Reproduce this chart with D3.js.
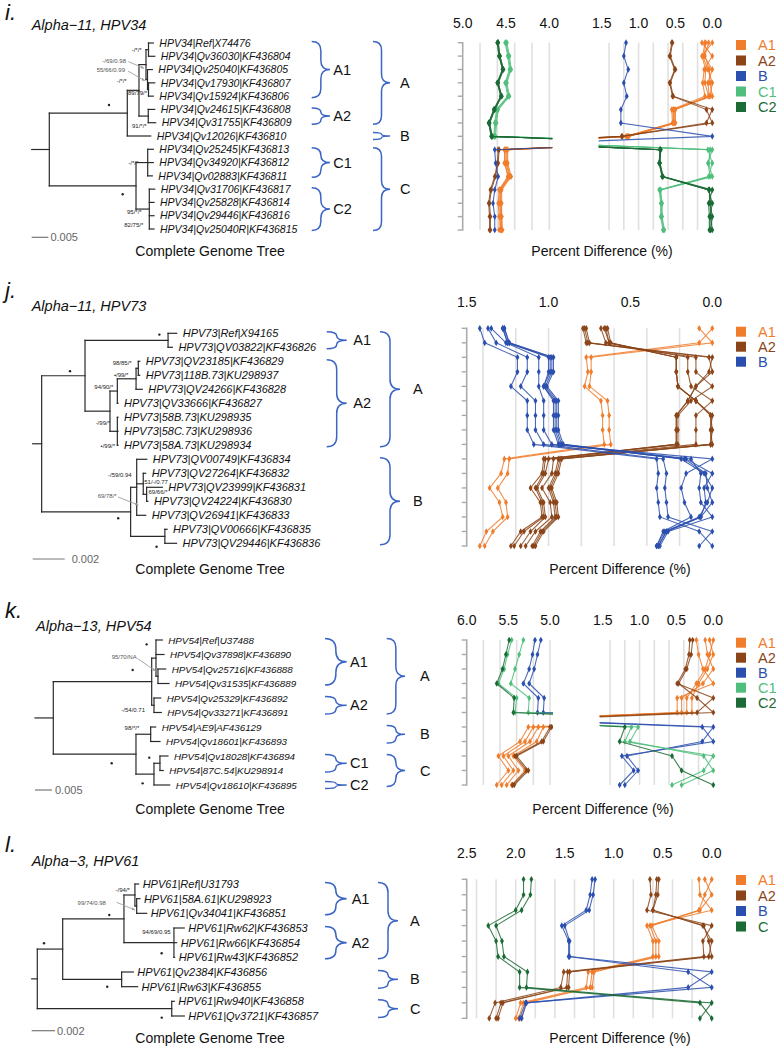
<!DOCTYPE html>
<html><head><meta charset="utf-8">
<script src="https://cdn.jsdelivr.net/npm/d3@7/dist/d3.min.js"></script>
<style>html,body{margin:0;padding:0;background:#fff}svg{display:block;font-family:"Liberation Sans",Arial,Helvetica,sans-serif}</style>
</head><body><svg id="fig" width="780" height="1049"></svg>
<script>
// ================= DATA =================
// ---- panel i : Alpha-11, HPV34 ----
const iLeaves=["HPV34|Ref|X74476","HPV34|Qv36030|KF436804","HPV34|Qv25040|KF436805","HPV34|Qv17930|KF436807","HPV34|Qv15924|KF436806","HPV34|Qv24615|KF436808","HPV34|Qv31755|KF436809","HPV34|Qv12026|KF436810","HPV34|Qv25245|KF436813","HPV34|Qv34920|KF436812","HPV34|Qv02883|KF436811","HPV34|Qv31706|KF436817","HPV34|Qv25828|KF436814","HPV34|Qv29446|KF436816","HPV34|Qv25040R|KF436815"];
const iTree={b:0.00527,c:[
 {id:"AB",b:0.02335,c:[
  {id:"A",b:0.0035,c:[
   {id:"A1",b:0.0021,c:[
    {id:"A1a",b:0.00075,c:[{n:0,b:0.00144},{n:1,b:0.00186}]},
    {id:"A1b",b:0.00045,c:[{n:2,b:0.00144},{id:"A1c",b:0.0003,c:[{n:3,b:0.00186},{n:4,b:0.00144}]}]}]},
   {id:"A2",b:0.00278,c:[{n:5,b:0.00192},{n:6,b:0.00222}]}]},
  {n:7,b:0.0070}]},
 {id:"C",b:0.02596,c:[
  {id:"C1",b:0.0035,c:[{n:8,b:0.00168},{n:9,b:0.00168},{n:10,b:0.00138}]},
  {id:"C2",b:0.00398,c:[{n:11,b:0.00162},{n:12,b:0.00141},{n:13,b:0.00141},{n:14,b:0.00141}]}]}]};
const iSupport=[["-/*/*","A1",-4.3,-12.1],["-/*/*","A",-12.3,-7.8],["89/79/*","A1c",-1.5,5.5],["•","AB",-18.3,-8.2],["91/*/*","A2",-1.6,12],["-/*/*","C1",-9.4,2.4],["•","C",-13.3,8.5],["95/*/*","C2",-7.6,5],["82/75/*","C2",-6,17.5]];
const iArrows=[["-/69/0.98","A1b",-21.5,-16.6,-19.2,-17.9,-3.5,-11.3],["55/66/0.99","A1c",-23.5,-17.5,-20.5,-18.5,-3.8,-8.8]];
const iSubClades=[["A1",0,4],["A2",5,6],["C1",8,10],["C2",11,14]];
const iMainClades=[["A",0,6],["B",7,7],["C",8,14]];
const iTicks=[[5.0,4.5,4.0],[1.5,1.0,0.5,0.0]];
const iA1=[[0.00,0.14,0.09,0.10,0.05,0.53,0.52,1.15,4.50,4.50,4.46,4.57,4.57,4.56,4.56],
[0.14,0.00,0.11,0.13,0.10,0.55,0.54,1.17,4.52,4.51,4.48,4.58,4.59,4.58,4.58],
[0.09,0.11,0.00,0.06,0.04,0.50,0.50,1.13,4.48,4.48,4.44,4.55,4.55,4.55,4.54],
[0.10,0.13,0.06,0.00,0.03,0.51,0.51,1.14,4.49,4.49,4.45,4.56,4.56,4.55,4.55],
[0.05,0.10,0.04,0.03,0.00,0.53,0.53,1.16,4.51,4.52,4.47,4.57,4.57,4.57,4.56]];
const iA2=[[0.54,0.57,0.50,0.57,0.53,0.00,0.08,1.22,4.58,4.59,4.62,4.67,4.69,4.68,4.68],
[0.55,0.58,0.51,0.58,0.54,0.08,0.00,1.23,4.59,4.60,4.63,4.68,4.70,4.69,4.69]];
const iB=[[1.17,1.20,1.14,1.20,1.16,1.24,1.24,0.00,4.63,4.62,4.59,4.63,4.65,4.63,4.63]];
const iC1=[[4.50,4.47,4.45,4.50,4.47,4.60,4.62,4.63,0.00,0.06,0.03,0.71,0.69,0.69,0.66],
[4.51,4.48,4.46,4.51,4.48,4.61,4.63,4.64,0.06,0.00,0.05,0.72,0.70,0.70,0.67],
[4.49,4.46,4.44,4.49,4.46,4.59,4.61,4.62,0.03,0.05,0.00,0.70,0.68,0.68,0.65]];
const iC2=[[4.59,4.57,4.53,4.59,4.55,4.63,4.69,4.66,0.70,0.71,0.67,0.00,0.05,0.04,0.04],
[4.60,4.58,4.54,4.60,4.56,4.64,4.70,4.67,0.71,0.72,0.68,0.05,0.00,0.03,0.03],
[4.59,4.57,4.53,4.59,4.55,4.63,4.69,4.66,0.70,0.71,0.67,0.04,0.03,0.00,0.02],
[4.60,4.58,4.54,4.60,4.56,4.64,4.70,4.67,0.71,0.72,0.68,0.04,0.03,0.02,0.00]];

// ---- panel j : Alpha-11, HPV73 ----
const jLeaves=["HPV73|Ref|X94165","HPV73|QV03822|KF436826","HPV73|QV23185|KF436829","HPV73|118B.73|KU298937","HPV73|QV24266|KF436828","HPV73|QV33666|KF436827","HPV73|58B.73|KU298935","HPV73|58C.73|KU298936","HPV73|58A.73|KU298934","HPV73|QV00749|KF436834","HPV73|QV27264|KF436832","HPV73|QV23999|KF436831","HPV73|QV24224|KF436830","HPV73|QV26941|KF436833","HPV73|QV00666|KF436835","HPV73|QV29446|KF436836"];
const jTree={b:0.00056,c:[
 {id:"A",b:0.00271,c:[
  {id:"A1",b:0.00519,c:[{n:0,b:0.00054},{n:1,b:0.00027}]},
  {id:"A2",b:0.00156,c:[
   {id:"A2a",b:0.00046,c:[
    {id:"A2a1",b:0.00117,c:[{id:"pair",b:0.00014,c:[{n:2,b:0.00009},{n:3,b:0.00009}]},{n:4,b:0.00039}]},
    {n:5,b:0.00004}]},
   {id:"A2b",b:0.00046,c:[{n:6,b:0.00004},{n:7,b:0.00004},{n:8,b:0.00004}]}]}]},
 {id:"B",b:0.00556,c:[
  {id:"B1",b:0.00038,c:[{n:9,b:0.00063},
   {id:"Bsub",b:0.00041,c:[{n:10,b:0.00015},{id:"Bsubsub",b:0.00021,c:[{n:11,b:0.00098},{n:12,b:0.00008}]}]},
   {n:13,b:0.00056}]},
  {id:"B2",b:0.00214,c:[{n:14,b:0.00014},{n:15,b:0.00073}]}]}]};
const jSupport=[["•","A1",-8.7,-5.7],["•","A",-15,-4.6],["98/85/*","pair",-6.6,-3.8],["•/99/*","A2a1",-7.7,-2.3],["94/90/*","A2a",-4,-2],["-/99/*","A2",0,14.3],["•/99/*","A2b",-2.3,16.7],["-/59/0.94","B1",-5,-10.3],["51/-/0.77","Bsub",1.0,0.2,"start"],["69/66/*","Bsubsub",1.9,-0.3,"start"],["•","B",-12.4,6.5],["•","B2",-8.3,10.4]];
const jArrows=[["69/78/*","B1",-20,10.7,-18.7,9.7,1.6,17.7]];
const jSubClades=[["A1",0,1],["A2",2,8]];
const jMainClades=[["A",0,8],["B",9,15]];
const jTicks=[[1.5,1.0,0.5,0.0]];
const jA1=[[0.00,0.08,0.77,0.76,0.78,0.68,0.67,0.67,0.66,1.27,1.29,1.36,1.30,1.28,1.38,1.42],
[0.08,0.00,0.74,0.74,0.75,0.64,0.63,0.63,0.62,1.24,1.25,1.31,1.26,1.25,1.34,1.39]];
const jA2=[[0.78,0.76,0.00,0.02,0.10,0.15,0.22,0.22,0.22,1.02,1.03,1.08,1.04,1.03,1.15,1.21],
[0.79,0.77,0.02,0.00,0.10,0.15,0.22,0.22,0.22,1.03,1.04,1.11,1.05,1.04,1.17,1.23],
[0.77,0.75,0.10,0.10,0.00,0.13,0.21,0.21,0.21,1.00,1.02,1.07,1.03,1.02,1.11,1.17],
[0.68,0.65,0.15,0.15,0.13,0.00,0.10,0.10,0.10,0.97,0.98,1.04,0.99,0.98,1.08,1.14],
[0.66,0.63,0.22,0.22,0.21,0.10,0.00,0.01,0.01,0.94,0.96,1.00,0.97,0.96,1.05,1.10],
[0.65,0.63,0.22,0.22,0.21,0.10,0.01,0.00,0.01,0.93,0.95,0.99,0.96,0.95,1.04,1.09],
[0.64,0.62,0.22,0.22,0.21,0.10,0.01,0.01,0.00,0.92,0.94,0.98,0.95,0.94,1.03,1.08]];
const jB=[[1.35,1.26,1.06,1.06,1.06,1.03,1.03,1.03,0.98,0.00,0.16,0.19,0.17,0.13,0.30,0.34],
[1.28,1.25,1.00,1.00,1.03,0.97,0.97,0.97,0.94,0.16,0.00,0.05,0.04,0.07,0.28,0.33],
[1.27,1.24,0.98,0.98,1.02,0.95,0.95,0.95,0.92,0.19,0.05,0.00,0.03,0.08,0.29,0.34],
[1.28,1.25,0.99,0.99,1.03,0.96,0.96,0.96,0.93,0.17,0.04,0.03,0.00,0.07,0.28,0.33],
[1.27,1.24,0.97,0.97,1.01,0.94,0.94,0.94,0.91,0.13,0.07,0.08,0.07,0.00,0.27,0.32],
[1.37,1.32,1.13,1.13,1.17,1.08,1.08,1.08,1.03,0.30,0.28,0.29,0.28,0.27,0.00,0.08],
[1.42,1.39,1.19,1.19,1.23,1.13,1.13,1.13,1.09,0.34,0.33,0.34,0.33,0.32,0.08,0.00]];

// ---- panel k : Alpha-13, HPV54 ----
const kLeaves=["HPV54|Ref|U37488","HPV54|Qv37898|KF436890","HPV54|Qv25716|KF436888","HPV54|Qv31535|KF436889","HPV54|Qv25329|KF436892","HPV54|Qv33271|KF436891","HPV54|AE9|AF436129","HPV54|Qv18601|KF436893","HPV54|Qv18028|KF436894","HPV54|87C.54|KU298914","HPV54|Qv18610|KF436895"];
const kTree={b:0.00538,c:[
 {id:"A",b:0.02894,c:[
  {id:"A1",b:0.00126,c:[{n:0,b:0.00185},{n:1,b:0.00235},{id:"A1s",b:0.00059,c:[{n:2,b:0.00226},{n:3,b:0.00324}]}]},
  {id:"A2",b:0.00068,c:[{n:4,b:0.00197},{n:5,b:0.00215}]}]},
 {id:"BC",b:0.02432,c:[
  {id:"B",b:0.00432,c:[{n:6,b:0.00147},{n:7,b:0.00274}]},
  {id:"C",b:0.00529,c:[{id:"C1",b:0.00176,c:[{n:8,b:0.00235},{n:9,b:0.00097}]},{n:10,b:0.00462}]}]}]};
const kSupport=[["•","A1",-9.3,-13.8],["•","A",-19,-11.7],["-/54/0.71","A2",-9,6.7],["98/*/*","B",-11.4,-3.8],["•","C1",-10.7,-5.6],["•","BC",-24.3,9.1],["•","C",-11.3,9.2]];
const kArrows=[["95/70/NA","A1s",-21.3,-17.3,-20.5,-17.8,-2.5,-5.3]];
const kSubClades=[["A1",0,3],["A2",4,5],["C1",8,9],["C2",10,10]];
const kMainClades=[["A",0,5],["B",6,7],["C",8,10]];
const kTicks=[[6.0,5.5,5.0],[1.5,1.0,0.5,0.0]];
const kA1=[[0.00,0.05,0.11,0.23,0.36,0.36,5.14,5.24,5.50,5.38,5.52],
[0.05,0.00,0.08,0.20,0.29,0.29,5.08,5.16,5.44,5.30,5.46],
[0.11,0.08,0.00,0.14,0.43,0.43,5.20,5.30,5.56,5.44,5.58],
[0.23,0.20,0.14,0.00,0.49,0.49,5.26,5.36,5.62,5.50,5.64]];
const kA2=[[0.32,0.33,0.38,0.49,0.00,0.22,4.98,5.08,5.40,5.26,5.43],
[0.28,0.30,0.36,0.47,0.22,0.00,5.00,5.10,5.42,5.28,5.45]];
const kB=[[5.18,5.21,5.25,5.32,5.14,5.15,0.00,0.15,1.17,1.02,1.20],
[5.11,5.15,5.19,5.25,5.07,5.08,0.15,0.00,1.24,1.08,1.27]];
const kC1=[[5.46,5.51,5.55,5.62,5.40,5.42,1.11,1.20,0.00,0.13,0.56],
[5.32,5.37,5.42,5.47,5.25,5.26,1.02,1.13,0.13,0.00,0.43]];
const kC2=[[5.49,5.53,5.57,5.64,5.43,5.44,1.20,1.27,0.56,0.43,0.00]];

// ---- panel l : Alpha-3, HPV61 ----
const lLeaves=["HPV61|Ref|U31793","HPV61|58A.61|KU298923","HPV61|Qv34041|KF436851","HPV61|Rw62|KF436853","HPV61|Rw66|KF436854","HPV61|Rw43|KF436852","HPV61|Qv2384|KF436856","HPV61|Rw63|KF436855","HPV61|Rw940|KF436858","HPV61|Qv3721|KF436857"];
const lTree={b:0.00048,c:[
 {id:"AB",b:0.00218,c:[
  {id:"A",b:0.00526,c:[
   {id:"A1",b:0.00094,c:[{n:0,b:0.00032},{id:"A1s",b:0.00015,c:[{n:1,b:0.00028},{n:2,b:0.00086}]}]},
   {id:"A2",b:0.00429,c:[{n:3,b:0.00088},{n:4,b:0.00023},{n:5,b:0.00006}]}]},
  {id:"B",b:0.00506,c:[{n:6,b:0.001},{n:7,b:0.00137}]}]},
 {id:"C",b:0.01154,c:[{n:8,b:0.00022},{n:9,b:0.00108}]}]};
const lSupport=[["-/94/*","A1",-5,-3],["•","A",-14.7,-3.8],["94/69/0.95","A2",-3.3,-8.2],["•","A2",-12.3,10.6],["•","AB",-18.7,-5.8],["•","B",-14.4,7.4],["•","C",-10,9]];
const lArrows=[["99/74/0.98","A1s",-30.7,-1.5,-20,-3.7,-1.7,4]];
const lSubClades=[["A1",0,2],["A2",3,5]];
const lMainClades=[["A",0,5],["B",6,7],["C",8,9]];
const lTicks=[[2.5,2.0,1.5,1.0,0.5,0.0]];
const lA1=[[0.00,0.07,0.13,0.63,0.57,0.57,1.22,1.24,1.92,1.97],
[0.07,0.00,0.12,0.61,0.54,0.54,1.20,1.22,1.89,1.94],
[0.13,0.12,0.00,0.66,0.60,0.60,1.26,1.28,1.95,2.00]];
const lA2=[[0.63,0.62,0.66,0.00,0.09,0.08,1.51,1.54,2.21,2.27],
[0.56,0.57,0.60,0.09,0.00,0.03,1.47,1.48,2.15,2.20],
[0.54,0.55,0.60,0.08,0.03,0.00,1.45,1.46,2.13,2.18]];
const lB=[[1.19,1.21,1.25,1.50,1.45,1.45,0.00,0.24,1.89,1.94],
[1.22,1.24,1.28,1.53,1.46,1.46,0.24,0.00,1.90,1.96]];
const lC=[[1.84,1.85,1.94,2.20,2.14,2.12,1.88,1.89,0.00,0.12],
[1.92,1.92,2.00,2.28,2.20,2.18,1.96,1.96,0.12,0.00]];

// ================= STYLE / LAYOUT =================
const COLORS={A1:"#f07d2c",A2:"#8b4519",B:"#2b4fae",C1:"#50be7c",C2:"#1c6a35",C:"#1c6a35"};
const panels=[
 {letter:"i.",sub:"Alpha−11, HPV34",leaves:iLeaves,tree:iTree,support:iSupport,arrows:iArrows,subC:iSubClades,mainC:iMainClades,ticks:iTicks,scaleTxt:"0.005",
  groups:[["A1",iA1],["A2",iA2],["B",iB],["C1",iC1],["C2",iC2]],
  L:{letterY:20,subX:31.7,subY:30,x0:31.7,sv:0.005,sp:16.7,tTop:43,tBot:229,lf:10.5,gap:6,scY:237.3,scGap:2,capY:256,ttlX:602,
     sbx:311.7,sbw:18.3,slx:333.3,mbx:373,mbw:17,mlx:400,cTop:42.7,cBot:230,segs:[[462.7,549.3],[601.7,712.3]],tickY:28.3,legY:45,legSp:15.5}},
 {letter:"j.",sub:"Alpha−11, HPV73",leaves:jLeaves,tree:jTree,support:jSupport,arrows:jArrows,subC:jSubClades,mainC:jMainClades,ticks:jTicks,scaleTxt:"0.002",
  groups:[["A1",jA1],["A2",jA2],["B",jB]],
  L:{letterY:298,subX:31.7,subY:311,x0:32.7,sv:0.002,sp:32,tTop:333.3,tBot:543.3,lf:11,gap:6,scY:559,scGap:7,capY:574,ttlX:620,
     sbx:326.7,sbw:20,slx:353.3,mbx:380,mbw:20,mlx:413,cTop:328.3,cBot:546,segs:[[466.7,712.3]],tickY:306.5,legY:331.7,legSp:15}},
 {letter:"k.",sub:"Alpha−13, HPV54",leaves:kLeaves,tree:kTree,support:kSupport,arrows:kArrows,subC:kSubClades,mainC:kMainClades,ticks:kTicks,scaleTxt:"0.005",
  groups:[["A1",kA1],["A2",kA2],["B",kB],["C1",kC1],["C2",kC2]],
  L:{letterY:618,subX:36,subY:631,x0:35,sv:0.005,sp:17,tTop:640,tBot:785,lf:9.8,gap:6,scY:790,scGap:3,capY:814,ttlX:603,
     sbx:325,sbw:21.7,slx:350,mbx:386.7,mbw:18.3,mlx:420,cTop:640,cBot:785,segs:[[466.7,550],[602.7,713.3]],tickY:625,legY:642.7,legSp:15}},
 {letter:"l.",sub:"Alpha−3, HPV61",leaves:lLeaves,tree:lTree,support:lSupport,arrows:lArrows,subC:lSubClades,mainC:lMainClades,ticks:lTicks,scaleTxt:"0.002",
  groups:[["A1",lA1],["A2",lA2],["B",lB],["C",lC]],
  L:{letterY:852,subX:31.7,subY:866,x0:31.7,sv:0.002,sp:23.3,tTop:884,tBot:1016,lf:11,gap:4,scY:1030.7,scGap:2,capY:1043,ttlX:620,
     sbx:325,sbw:21.7,slx:351.7,mbx:378,mbw:20,mlx:410,cTop:879.3,cBot:1018.3,segs:[[466.7,711.7]],tickY:858,legY:880,legSp:15.5}}
];

// ================= DRAW =================
const svg=d3.select("#fig");
const defs=svg.append("defs");
defs.append("marker").attr("id","arr").attr("viewBox","0 0 10 10").attr("refX",9).attr("refY",5)
 .attr("markerWidth",4).attr("markerHeight",4).attr("orient","auto")
 .append("path").attr("d","M0,1 L10,5 L0,9 z").attr("fill","#9a9a9a");

function bracePath(x,y1,y2,w){
 const ym=(y1+y2)/2, xm=x+w/2, r=Math.min(w/2,(y2-y1)/4);
 return `M${x},${y1} Q${xm},${y1} ${xm},${y1+r} L${xm},${ym-r} Q${xm},${ym} ${x+w},${ym} Q${xm},${ym} ${xm},${ym+r} L${xm},${y2-r} Q${xm},${y2} ${x},${y2}`;
}

function drawTree(P){
 const L=P.L, g=svg.append("g");
 g.append("text").attr("x",5).attr("y",L.letterY).attr("font-size",22).attr("font-style","italic").attr("fill","#111").text(P.letter);
 g.append("text").attr("x",L.subX).attr("y",L.subY).attr("font-size",14.5).attr("font-style","italic").attr("fill","#111").text(P.sub);
 const root=d3.hierarchy(P.tree,d=>d.c);
 const xs=d3.scaleLinear().domain([0,L.sv]).range([L.x0,L.x0+L.sp]);
 const ys=d3.scaleLinear().domain([0,P.leaves.length-1]).range([L.tTop,L.tBot]);
 root.eachBefore(n=>{n.len=(n.parent?n.parent.len:0)+n.data.b;n.px=xs(n.len);});
 root.eachAfter(n=>{n.py=n.children?(n.children[0].py+n.children[n.children.length-1].py)/2:ys(n.data.n);});
 const tg=g.append("g").attr("stroke","#2a2a2a").attr("stroke-width",1.2).attr("stroke-linecap","square").attr("fill","none");
 tg.append("line").attr("x1",xs(0)).attr("x2",root.px).attr("y1",root.py).attr("y2",root.py);
 root.descendants().forEach(n=>{
  if(n.parent) tg.append("line").attr("x1",n.parent.px).attr("x2",n.px).attr("y1",n.py).attr("y2",n.py);
  if(n.children) tg.append("line").attr("x1",n.px).attr("x2",n.px).attr("y1",n.children[0].py).attr("y2",n.children[n.children.length-1].py);
 });
 root.leaves().forEach(n=>g.append("text").attr("x",n.px+L.gap).attr("y",n.py+L.lf*0.36)
  .attr("font-size",L.lf).attr("font-style","italic").attr("fill","#111").text(P.leaves[n.data.n]));
 const byId={}; root.descendants().forEach(n=>{if(n.data.id) byId[n.data.id]=n;});
 P.support.forEach(([t,id,dx,dy,anc])=>{
  const n=byId[id];
  if(t==="•") g.append("circle").attr("cx",n.px+dx).attr("cy",n.py+dy).attr("r",1.2).attr("fill","#222");
  else g.append("text").attr("x",n.px+dx).attr("y",n.py+dy).attr("font-size",6).attr("text-anchor",anc||"end").attr("fill","#222").text(t);
 });
 P.arrows.forEach(([t,id,dx,dy,a1,b1,a2,b2])=>{
  const n=byId[id];
  g.append("text").attr("x",n.px+dx).attr("y",n.py+dy).attr("font-size",6).attr("text-anchor","end").attr("fill","#555").text(t);
  g.append("line").attr("x1",n.px+a1).attr("y1",n.py+b1).attr("x2",n.px+a2).attr("y2",n.py+b2)
   .attr("stroke","#a0a0a0").attr("stroke-width",0.9).attr("marker-end","url(#arr)");
 });
 g.append("line").attr("x1",xs(0)).attr("x2",xs(L.sv)).attr("y1",L.scY).attr("y2",L.scY).attr("stroke","#777").attr("stroke-width",1.2);
 g.append("text").attr("x",xs(L.sv)+L.scGap).attr("y",L.scY+4).attr("font-size",11).attr("fill","#666").text(P.scaleTxt);
 g.append("text").attr("x",210).attr("y",L.capY).attr("text-anchor","middle").attr("font-size",14).attr("fill","#111").text("Complete Genome Tree");
 const bg=g.append("g").attr("fill","none").attr("stroke","#3b65c4").attr("stroke-width",1.5);
 const doBraces=(list,bx,bw,lx)=>list.forEach(([t,a,b])=>{
  const pad=a===b?3.5:1.5, y1=ys(a)-pad, y2=ys(b)+pad;
  bg.append("path").attr("d",bracePath(bx,y1,y2,bw));
  g.append("text").attr("x",lx).attr("y",(y1+y2)/2+5).attr("font-size",14.5).attr("fill","#111").text(t);
 });
 doBraces(P.subC,L.sbx,L.sbw,L.slx);
 doBraces(P.mainC,L.mbx,L.mbw,L.mlx);
}

function drawChart(P,pi){
 const L=P.L, g=svg.append("g"), N=P.leaves.length;
 const y=d3.scaleLinear().domain([0,N-1]).range([L.cTop,L.cBot]);
 const segs=P.ticks.map((tk,k)=>({tk,x:d3.scaleLinear().domain([tk[0],tk[tk.length-1]]).range(L.segs[k])}));
 segs.forEach((s,k)=>{
  const [hi,lo]=s.x.domain();
  s.x.ticks(Math.round((hi-lo)/0.25)).filter(v=>v>0.001&&!(k===0&&Math.abs(v-hi)<1e-6)).forEach(v=>
   g.append("line").attr("x1",s.x(v)).attr("x2",s.x(v)).attr("y1",L.cTop).attr("y2",L.cBot).attr("stroke","#e0e0e0").attr("stroke-width",1.6));
  s.tk.forEach(v=>g.append("text").attr("x",s.x(v)).attr("y",L.tickY).attr("text-anchor","middle").attr("font-size",14).attr("fill","#111").text(d3.format(".1f")(v)));
 });
 const ax=L.segs[0][0];
 g.append("line").attr("x1",ax).attr("x2",ax).attr("y1",L.cTop-0.7).attr("y2",L.cBot+0.7).attr("stroke","#aaa").attr("stroke-width",1.6);
 d3.range(N).forEach(i=>g.append("line").attr("x1",ax-5).attr("x2",ax).attr("y1",y(i)).attr("y2",y(i)).attr("stroke","#aaa").attr("stroke-width",1.4));
 const sym=d3.symbol(d3.symbolDiamond,13)();
 segs.forEach((s,k)=>{
  const id=`clip${pi}_${k}`, r=L.segs[k];
  defs.append("clipPath").attr("id",id).append("rect").attr("x",r[0]-3).attr("y",L.cTop-10).attr("width",r[1]-r[0]+6).attr("height",L.cBot-L.cTop+20);
  const lg=g.append("g").attr("clip-path",`url(#${id})`);
  P.groups.forEach(([key,lines])=>{
   const col=COLORS[key];
   lines.forEach(vals=>{
    const pts=vals.map((v,i)=>[s.x(v),y(i)]);
    lg.append("path").attr("d",d3.line()(pts)).attr("fill","none").attr("stroke",col).attr("stroke-width",1.1).attr("stroke-opacity",0.85);
    pts.forEach(p=>lg.append("path").attr("d",sym).attr("transform",`translate(${p[0]},${p[1]})`).attr("fill",col));
   });
  });
 });
 P.groups.forEach(([key],k)=>{
  const yy=L.legY+k*L.legSp;
  g.append("rect").attr("x",736).attr("y",yy-5).attr("width",10).attr("height",10).attr("fill",COLORS[key]);
  g.append("text").attr("x",758).attr("y",yy+5).attr("font-size",14.5).attr("fill",COLORS[key]).text(key);
 });
 g.append("text").attr("x",L.ttlX).attr("y",L.capY).attr("text-anchor","middle").attr("font-size",14).attr("fill","#111").text("Percent Difference (%)");
}

panels.forEach((P,pi)=>{drawTree(P);drawChart(P,pi);});
</script></body></html>
